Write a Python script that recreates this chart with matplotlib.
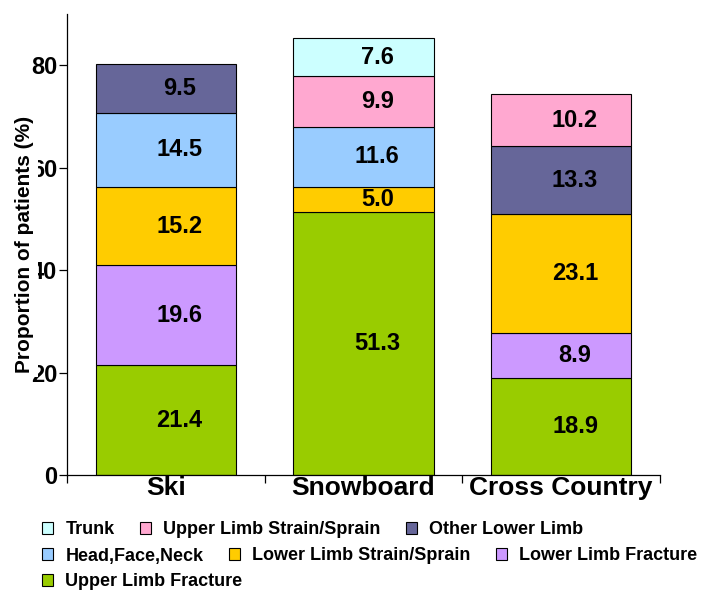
import matplotlib.pyplot as plt
from matplotlib.patches import Patch

plt.rcParams['font.family'] = ['Liberation Sans', 'DejaVu Sans']
plt.rcParams['font.weight'] = 'bold'

# datos (%)
categories = ["Ski", "Snowboard", "Cross Country"]
upper_limb_fracture = [21.4, 51.3, 18.9]
lower_limb_fracture = [19.6, 0.0, 8.9]
lower_limb_strain = [15.2, 5.0, 23.1]
head_face_neck = [14.5, 11.6, 0.0]
other_lower_limb = [9.5, 0.0, 13.3]
upper_limb_strain = [0.0, 9.9, 10.2]
trunk = [0.0, 7.6, 0.0]

# series en orden de apilado (de abajo hacia arriba)
series = [
    ("Upper Limb Fracture", upper_limb_fracture, "#99CC00"),
    ("Lower Limb Fracture", lower_limb_fracture, "#CC99FF"),
    ("Lower Limb Strain/Sprain", lower_limb_strain, "#FFCC00"),
    ("Head,Face,Neck", head_face_neck, "#99CCFF"),
    ("Other Lower Limb", other_lower_limb, "#666699"),
    ("Upper Limb Strain/Sprain", upper_limb_strain, "#FFA8D0"),
    ("Trunk", trunk, "#CCFFFF"),
]

fig = plt.figure(figsize=(7.04, 5.93), dpi=100)
ax = fig.add_axes([67 / 704, 1 - 475 / 593, 593 / 704, 461 / 593])

x = list(range(len(categories)))
bottoms = [0.0] * len(categories)
colors = {}
for name, values, color in series:
    colors[name] = color
    for i, v in enumerate(values):
        if v <= 0:
            continue
        ax.bar(x[i], v, width=0.71, bottom=bottoms[i], color=color,
               edgecolor="black", linewidth=0.8, zorder=2)
        ax.text(x[i] + 0.07, bottoms[i] + v / 2, f"{v:.1f}", ha="center",
                va="center", fontsize=17, fontweight="bold", zorder=3)
        bottoms[i] += v

ax.set_xlim(-0.5, 2.5)
ax.set_ylim(0, 90)

# ejes
for side in ("top", "right"):
    ax.spines[side].set_visible(False)
for side in ("left", "bottom"):
    ax.spines[side].set_linewidth(0.9)

ax.set_yticks([0, 20, 40, 60, 80])
ax.tick_params(axis="y", direction="out", length=6, width=0.9, pad=1,
               labelsize=17)
ax.set_xticks([-0.5, 0.5, 1.5, 2.5])
ax.set_xticklabels([])
ax.set_xticks(x, minor=True)
ax.set_xticklabels(categories, minor=True, fontsize=19, fontweight="bold")
ax.tick_params(axis="x", which="major", direction="out", length=6, width=0.9)
ax.tick_params(axis="x", which="minor", length=0, pad=1)

# la etiqueta tapa en parte los numeros del eje, como en el original
ax.set_ylabel("Proportion of patients (%)", fontsize=15, fontweight="bold")
ax.yaxis.set_label_coords(-0.056, 0.5)
ax.yaxis.label.set_bbox(dict(facecolor="white", edgecolor="none", pad=3))

# leyenda en tres filas
rows = [
    (["Trunk", "Upper Limb Strain/Sprain", "Other Lower Limb"], 1 - 530 / 593),
    (["Head,Face,Neck", "Lower Limb Strain/Sprain", "Lower Limb Fracture"], 1 - 556 / 593),
    (["Upper Limb Fracture"], 1 - 582 / 593),
]
for names, y in rows:
    handles = [Patch(facecolor=colors[n], edgecolor="black", linewidth=0.8)
               for n in names]
    fig.legend(handles, names, loc="center left", bbox_to_anchor=(42 / 704, y),
               ncol=len(names), frameon=False, borderpad=0, borderaxespad=0,
               handlelength=0.6, handleheight=0.6, handletextpad=0.7,
               columnspacing=1.4, prop={"size": 13, "weight": "bold"})

fig.savefig("out.png", dpi=100)
